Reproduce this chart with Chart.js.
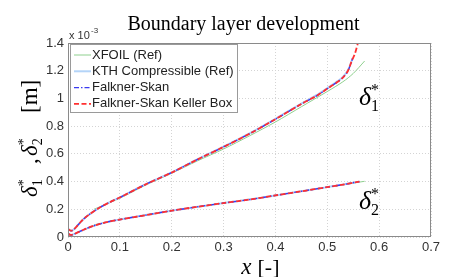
<!DOCTYPE html>
<html>
<head>
<meta charset="utf-8">
<script src="https://cdn.jsdelivr.net/npm/chart.js@4.4.1/dist/chart.umd.min.js"></script>
<style>
  html, body { margin: 0; padding: 0; background: #fff; }
  #wrap { width: 449px; height: 277px; }
</style>
</head>
<body>
<div id="wrap"><canvas id="blChart"></canvas></div>
<script>
// x positions along the plate [-], thickness values in units of 1e-3 m
const xD1 = [0, 0.005, 0.01, 0.02, 0.03, 0.04, 0.06, 0.08, 0.1, 0.15, 0.2, 0.25, 0.3, 0.35, 0.4, 0.45, 0.48, 0.5, 0.52, 0.53, 0.54, 0.547, 0.553, 0.559, 0.565];
const fsKbD1 = [0.058, 0.046, 0.05, 0.09, 0.13, 0.16, 0.21, 0.25, 0.285, 0.38, 0.465, 0.56, 0.65, 0.745, 0.85, 0.96, 1.02, 1.07, 1.12, 1.15, 1.2, 1.27, 1.32, 1.4, 1.5];
const xFs = [0, 0.005, 0.01, 0.02, 0.03, 0.04, 0.06, 0.08, 0.1, 0.15, 0.2, 0.25, 0.3, 0.35, 0.4, 0.45, 0.48, 0.5, 0.52, 0.53, 0.54, 0.549];
const fsD1 = [0.058, 0.046, 0.05, 0.09, 0.13, 0.16, 0.21, 0.25, 0.285, 0.38, 0.465, 0.56, 0.65, 0.745, 0.85, 0.96, 1.02, 1.07, 1.12, 1.15, 1.2, 1.29];
const kthD1 = [0.058, 0.046, 0.05, 0.09, 0.13, 0.16, 0.21, 0.25, 0.286, 0.381, 0.466, 0.562, 0.652, 0.748, 0.853, 0.963, 1.025, 1.075, 1.125, 1.155, 1.205, 1.29];
const xXfoil = [0.05, 0.1, 0.15, 0.2, 0.25, 0.3, 0.35, 0.4, 0.45, 0.5, 0.53, 0.55, 0.572];
const xfoilD1 = [0.2, 0.28, 0.375, 0.46, 0.55, 0.635, 0.73, 0.83, 0.94, 1.05, 1.12, 1.18, 1.27];

const xD2 = [0, 0.005, 0.01, 0.02, 0.03, 0.04, 0.06, 0.08, 0.1, 0.15, 0.2, 0.25, 0.3, 0.35, 0.4, 0.45, 0.5, 0.53, 0.562];
const d2 = [0.024, 0.015, 0.018, 0.035, 0.052, 0.068, 0.093, 0.112, 0.126, 0.158, 0.19, 0.218, 0.245, 0.27, 0.3, 0.33, 0.36, 0.378, 0.4];
const xXfoilD2 = [0.05, 0.1, 0.2, 0.3, 0.4, 0.5, 0.572];
const xfoilD2 = [0.088, 0.125, 0.19, 0.245, 0.3, 0.36, 0.402];

const seriesNames = ['XFOIL (Ref)', 'KTH Compressible (Ref)', 'Falkner-Skan', 'Falkner-Skan Keller Box'];
const seriesColors = ['#8fd08f', '#b4d4f8', '#3a3af0', '#ff3030'];
const seriesDash = [[], [], [5, 2, 1.5, 2], [5, 2.5]];
const seriesWidth = [1, 2, 1.4, 1.8];
const drawOrder = [3, 2, 1, 0];

const xTicks = [0, 0.1, 0.2, 0.3, 0.4, 0.5, 0.6, 0.7];
const yTicks = [0, 0.2, 0.4, 0.6, 0.8, 1, 1.2, 1.4];

function pts(xs, ys) { return xs.map((x, i) => ({ x: x, y: ys[i] })); }

function line(idx, data) {
  return {
    label: seriesNames[idx],
    data: data,
    showLine: true,
    order: drawOrder[idx],
    borderColor: seriesColors[idx],
    borderDash: seriesDash[idx],
    borderWidth: seriesWidth[idx],
    pointRadius: 0,
    fill: false,
    tension: 0.3
  };
}

const datasets = [
  line(0, pts(xXfoil, xfoilD1)),
  line(0, pts(xXfoilD2, xfoilD2)),
  line(1, pts(xFs, kthD1)),
  line(1, pts(xD2, d2)),
  line(2, pts(xFs, fsD1)),
  line(2, pts(xD2, d2)),
  line(3, pts(xD1, fsKbD1)),
  line(3, pts(xD2, d2))
];

// legend box, frame, axis labels and curve annotations
const decorPlugin = {
  id: 'decor',
  afterDatasetsDraw(chart) {
    const { ctx, chartArea: a, scales } = chart;
    ctx.save();
    ctx.strokeStyle = '#8a8a8a';
    ctx.lineWidth = 1;
    ctx.setLineDash([]);
    ctx.strokeRect(a.left + 0.5, a.top + 0.5, a.right - a.left - 1, a.bottom - a.top - 1);

    // legend
    const lx = a.left + 2, ly = a.top + 1, lw = 167, lh = 68;
    ctx.fillStyle = '#fff';
    ctx.fillRect(lx, ly, lw, lh);
    ctx.strokeStyle = '#9a9a9a';
    ctx.strokeRect(lx + 0.5, ly + 0.5, lw, lh);
    ctx.font = '13px "Liberation Sans", Arial, sans-serif';
    ctx.textBaseline = 'middle';
    ctx.textAlign = 'left';
    seriesNames.forEach((name, i) => {
      const yy = ly + 11 + i * 16.3;
      ctx.strokeStyle = seriesColors[i];
      ctx.lineWidth = seriesWidth[i];
      ctx.setLineDash(seriesDash[i]);
      ctx.beginPath();
      ctx.moveTo(lx + 4, yy);
      ctx.lineTo(lx + 21, yy);
      ctx.stroke();
      ctx.setLineDash([]);
      ctx.fillStyle = '#222';
      ctx.fillText(name, lx + 22, yy);
    });

    // exponent
    ctx.font = '11px "Liberation Sans", Arial, sans-serif';
    ctx.fillStyle = '#333';
    ctx.textBaseline = 'alphabetic';
    ctx.fillText('x 10', a.left + 1, a.top - 4);
    ctx.font = '8px "Liberation Sans", Arial, sans-serif';
    ctx.fillText('-3', a.left + 23, a.top - 10);

    // title
    ctx.fillStyle = '#000';
    ctx.textAlign = 'center';
    ctx.font = '20px "Liberation Serif", "Times New Roman", serif';
    ctx.fillText('Boundary layer development', (a.left + a.right) / 2 - 6, 30);

    // x label
    ctx.font = 'italic 23px "Liberation Serif", serif';
    ctx.textAlign = 'right';
    const xc = (a.left + a.right) / 2 + 8;
    ctx.fillText('x', xc - 6, 274);
    ctx.font = '22px "Liberation Serif", serif';
    ctx.textAlign = 'left';
    ctx.fillText('[-]', xc, 274);

    // y label
    ctx.save();
    ctx.translate(37, 143);
    ctx.rotate(-Math.PI / 2);
    drawDeltaLabel(ctx, -54, 0, '1', 23);
    ctx.font = '23px "Liberation Serif", serif';
    ctx.textAlign = 'left';
    ctx.fillText(',', -21, 0);
    drawDeltaLabel(ctx, -13, 0, '2', 23);
    ctx.font = '23px "Liberation Serif", serif';
    ctx.fillText('[m]', 30, 0);
    ctx.restore();

    // curve annotations
    const ax = scales.x.getPixelForValue(0.588);
    drawDeltaLabel(ctx, ax - 14, scales.y.getPixelForValue(0.95), '1', 26);
    drawDeltaLabel(ctx, ax - 14, scales.y.getPixelForValue(0.2), '2', 26);
    ctx.restore();
  }
};

function drawDeltaLabel(ctx, x, y, sub, size) {
  ctx.fillStyle = '#000';
  ctx.textAlign = 'left';
  ctx.textBaseline = 'alphabetic';
  ctx.font = 'italic ' + size + 'px "Liberation Serif", serif';
  ctx.fillText('δ', x, y);
  const w = ctx.measureText('δ').width;
  ctx.font = Math.round(size * 0.62) + 'px "Liberation Serif", serif';
  ctx.fillText('*', x + w, y - size * 0.38);
  ctx.fillText(sub, x + w, y + size * 0.22);
}

document.addEventListener('DOMContentLoaded', () => {
  const ctx = document.getElementById('blChart');
  new Chart(ctx, {
    type: 'scatter',
    data: { datasets: datasets },
    plugins: [decorPlugin],
    options: {
      responsive: true,
      maintainAspectRatio: false,
      animation: false,
      layout: { padding: { top: 43, right: 18, left: 0, bottom: 0 } },
      plugins: {
        legend: { display: false },
        tooltip: { enabled: false }
      },
      scales: {
        x: {
          type: 'linear',
          min: 0,
          max: 0.7,
          afterBuildTicks: (s) => { s.ticks = xTicks.map(v => ({ value: v })); },
          afterFit: (s) => { s.height = 40; },
          grid: { color: '#d4d4d4', drawTicks: false },
          border: { display: false, dash: [1, 2] },
          ticks: {
            color: '#333',
            padding: 3,
            maxRotation: 0,
            font: { family: '"Liberation Sans", Arial, sans-serif', size: 13 },
            callback: (v) => String(Math.round(v * 10) / 10)
          }
        },
        y: {
          type: 'linear',
          min: 0,
          max: 1.4,
          afterBuildTicks: (s) => { s.ticks = yTicks.map(v => ({ value: v })); },
          afterFit: (s) => { s.width = 68; },
          grid: { color: '#d4d4d4', drawTicks: false },
          border: { display: false, dash: [1, 2] },
          ticks: {
            color: '#333',
            padding: 4,
            font: { family: '"Liberation Sans", Arial, sans-serif', size: 13 },
            callback: (v) => String(Math.round(v * 10) / 10)
          }
        }
      }
    }
  });
});
</script>
</body>
</html>
